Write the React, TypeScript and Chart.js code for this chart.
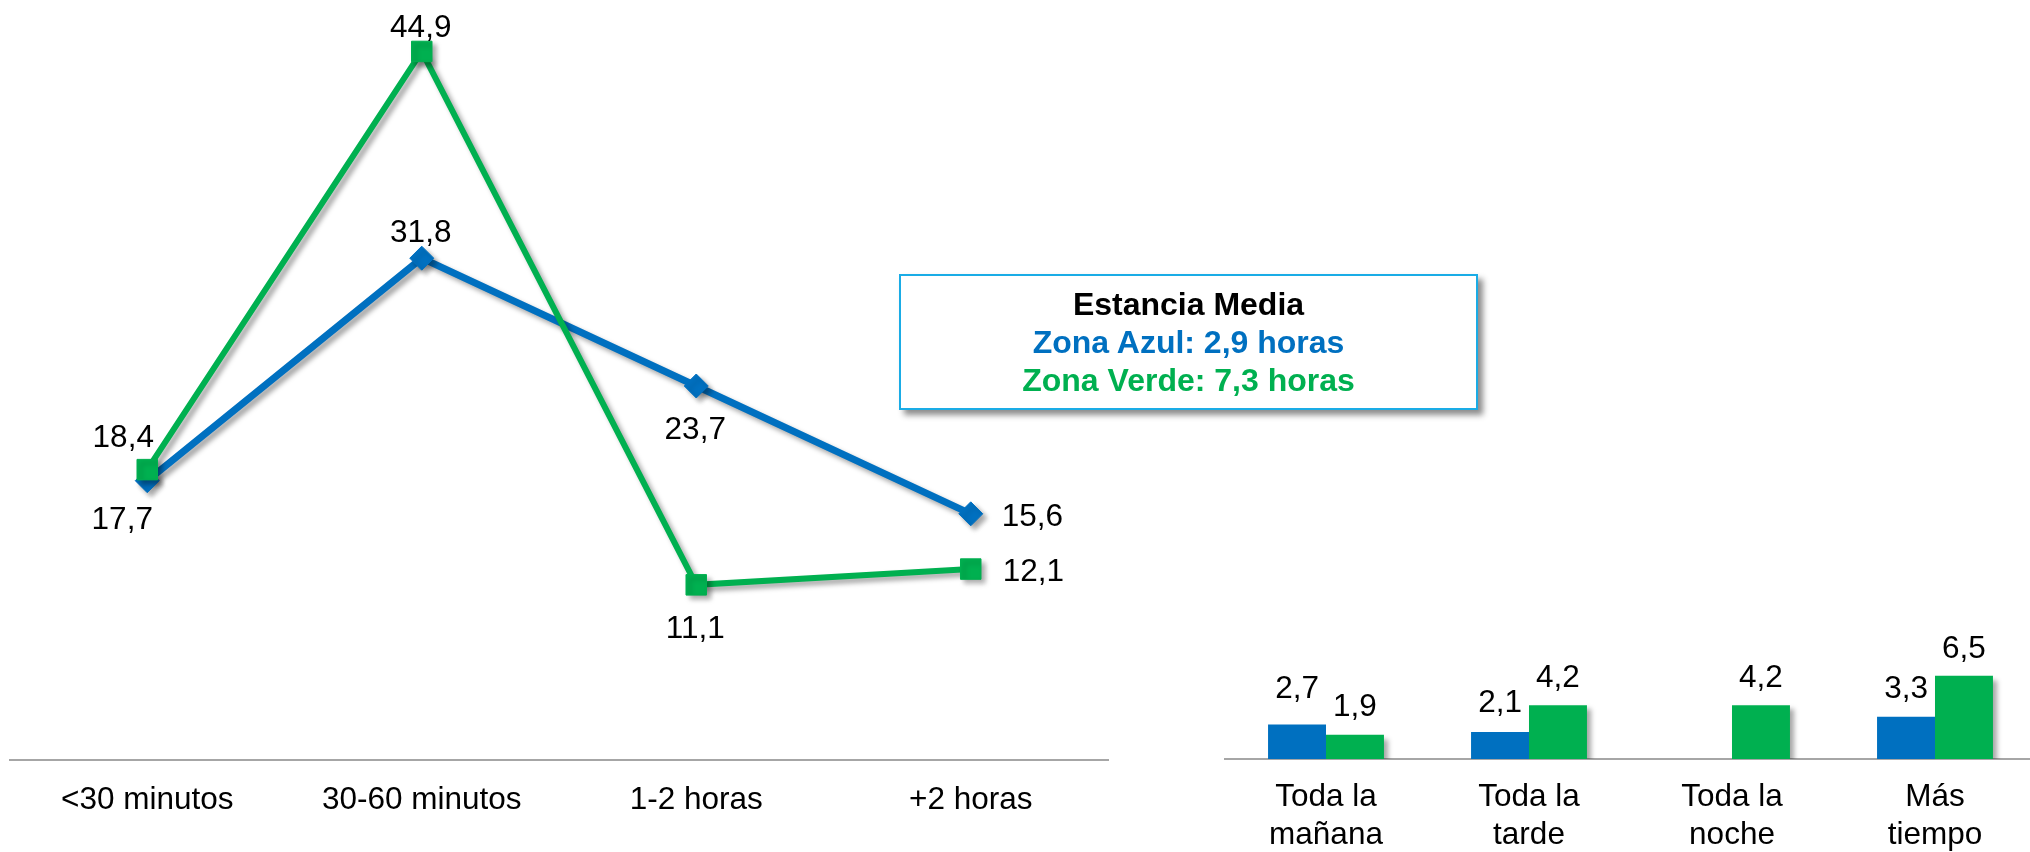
import React, { useEffect, useRef } from 'react';
import { Chart, registerables } from 'chart.js';

Chart.register(...registerables);

const FONT = '"Liberation Sans", Arial, Helvetica, sans-serif';
const BLUE = '#0070C0';
const GREEN = '#00B050';
const FS = 31.5;

// ---- Data ----
const durationCategories = ['<30 minutos', '30-60 minutos', '1-2 horas', '+2 horas'];
const durationAzul = [17.7, 31.8, 23.7, 15.6];
const durationVerde = [18.4, 44.9, 11.1, 12.1];

const periodCategories = [
  ['Toda la', 'mañana'],
  ['Toda la', 'tarde'],
  ['Toda la', 'noche'],
  ['Más', 'tiempo'],
];
const periodAzul: (number | null)[] = [2.7, 2.1, null, 3.3];
const periodVerde = [1.9, 4.2, 4.2, 6.5];

const seriesNames = ['Zona Azul', 'Zona Verde'];
const averageStayHours = [2.9, 7.3];

// ---- Label placement (style) ----
type Place = { dx: number; dy: number; align: CanvasTextAlign };
const lineLabelPlacement: Place[][] = [
  [
    { dx: -25, dy: 37.5, align: 'center' },
    { dx: -1, dy: -27.5, align: 'center' },
    { dx: -1, dy: 41.5, align: 'center' },
    { dx: 31, dy: 1, align: 'left' },
  ],
  [
    { dx: -24, dy: -34, align: 'center' },
    { dx: -1, dy: -26, align: 'center' },
    { dx: -1, dy: 41.5, align: 'center' },
    { dx: 32, dy: 1, align: 'left' },
  ],
];
const barLabelGap = [
  [26, 20, 19, 19],
  [19, 18, 18, 18],
];

const fmt = (v: number) => v.toFixed(1).replace('.', ',');

const makeShadowPlugin = (indices: number[] | null) => ({
  id: 'dsShadow',
  beforeDatasetDraw(chart: any, args: any) {
    const c = chart.ctx;
    c.save();
    if (indices === null || indices.includes(args.index)) {
      c.shadowColor = 'rgba(0,0,0,0.35)';
      c.shadowBlur = 5;
      c.shadowOffsetX = 4;
      c.shadowOffsetY = 4;
    }
  },
  afterDatasetDraw(chart: any) {
    chart.ctx.restore();
  },
});

const lineLabelsPlugin = {
  id: 'lineLabels',
  afterDatasetsDraw(chart: any) {
    const ctx = chart.ctx;
    ctx.save();
    ctx.font = `${FS}px ${FONT}`;
    ctx.fillStyle = '#000';
    ctx.textBaseline = 'alphabetic';
    chart.data.datasets.forEach((ds: any, di: number) => {
      const meta = chart.getDatasetMeta(di);
      meta.data.forEach((el: any, i: number) => {
        const v = ds.data[i];
        if (v == null) return;
        const p = lineLabelPlacement[di][i];
        ctx.textAlign = p.align;
        ctx.fillText(fmt(v), el.x + p.dx, el.y + p.dy + FS * 0.358);
      });
    });
    ctx.restore();
  },
};

const barLabelsPlugin = {
  id: 'barLabels',
  afterDatasetsDraw(chart: any) {
    const ctx = chart.ctx;
    ctx.save();
    ctx.font = `${FS}px ${FONT}`;
    ctx.fillStyle = '#000';
    ctx.textAlign = 'center';
    ctx.textBaseline = 'alphabetic';
    chart.data.datasets.forEach((ds: any, di: number) => {
      const meta = chart.getDatasetMeta(di);
      meta.data.forEach((el: any, i: number) => {
        const v = ds.data[i];
        if (v == null) return;
        ctx.fillText(fmt(v), el.x, el.y - barLabelGap[di][i]);
      });
    });
    ctx.restore();
  },
};

function LineChart() {
  const ref = useRef<HTMLCanvasElement | null>(null);
  useEffect(() => {
    if (!ref.current) return;
    const chart = new Chart(ref.current, {
      type: 'line',
      data: {
        labels: durationCategories,
        datasets: [
          {
            label: seriesNames[0],
            data: durationAzul,
            borderColor: BLUE,
            backgroundColor: BLUE,
            borderWidth: 7,
            pointStyle: 'rectRot',
            pointRadius: 12,
            pointBorderWidth: 1,
            pointBackgroundColor: BLUE,
            pointBorderColor: BLUE,
            tension: 0,
            clip: false,
            order: 1,
          } as any,
          {
            label: seriesNames[1],
            data: durationVerde,
            borderColor: GREEN,
            backgroundColor: GREEN,
            borderWidth: 6,
            pointStyle: 'rect',
            pointRadius: 14.5,
            pointBorderWidth: 1,
            pointBackgroundColor: GREEN,
            pointBorderColor: GREEN,
            tension: 0,
            clip: false,
            order: 0,
          } as any,
        ],
      },
      options: {
        responsive: false,
        animation: false,
        events: [],
        layout: { autoPadding: false, padding: { left: 10, right: 12, top: 0, bottom: 0 } },
        plugins: { legend: { display: false }, tooltip: { enabled: false } },
        scales: {
          x: {
            offset: true,
            grid: { display: false, drawTicks: false },
            border: { display: true, color: '#a6a6a6', width: 2 },
            ticks: {
              font: { size: FS, family: FONT },
              color: '#000',
              padding: 21,
              maxRotation: 0,
              autoSkip: false,
            },
            afterFit: (s: any) => {
              s.height = 92;
            },
          },
          y: { display: false, min: 0, max: 48.16 },
        },
      } as any,
      plugins: [makeShadowPlugin(null), lineLabelsPlugin],
    });
    return () => chart.destroy();
  }, []);
  return (
    <canvas
      ref={ref}
      width={1120}
      height={852}
      style={{ position: 'absolute', left: 0, top: 0, width: 1120, height: 852 }}
    />
  );
}

function BarChart() {
  const ref = useRef<HTMLCanvasElement | null>(null);
  useEffect(() => {
    if (!ref.current) return;
    const chart = new Chart(ref.current, {
      type: 'bar',
      data: {
        labels: periodCategories,
        datasets: [
          {
            label: seriesNames[0],
            data: periodAzul,
            backgroundColor: BLUE,
            categoryPercentage: 0.571,
            barPercentage: 1,
          } as any,
          {
            label: seriesNames[1],
            data: periodVerde,
            backgroundColor: GREEN,
            categoryPercentage: 0.571,
            barPercentage: 1,
          } as any,
        ],
      },
      options: {
        responsive: false,
        animation: false,
        events: [],
        layout: { autoPadding: false, padding: { left: 24.5, right: 13.5, top: 0, bottom: 0 } },
        plugins: { legend: { display: false }, tooltip: { enabled: false } },
        scales: {
          x: {
            grid: { display: false, drawTicks: false },
            border: { display: true, color: '#a6a6a6', width: 2 },
            ticks: {
              font: { size: FS, family: FONT, lineHeight: 1.22 },
              color: '#000',
              padding: 19,
              maxRotation: 0,
              autoSkip: false,
            },
            afterFit: (s: any) => {
              s.height = 93;
            },
          },
          y: { display: false, min: 0, max: 59.3 },
        },
      } as any,
      plugins: [makeShadowPlugin([1]), barLabelsPlugin],
    });
    return () => chart.destroy();
  }, []);
  return (
    <canvas
      ref={ref}
      width={850}
      height={852}
      style={{ position: 'absolute', left: 1200, top: 0, width: 850, height: 852 }}
    />
  );
}

export default function App() {
  return (
    <div
      style={{
        position: 'fixed',
        left: 0,
        top: 0,
        width: 2030,
        height: 852,
        overflow: 'hidden',
        background: '#fff',
      }}
    >
      <LineChart />
      <BarChart />
      <div
        style={{
          position: 'absolute',
          left: 899,
          top: 274,
          width: 579,
          height: 136,
          boxSizing: 'border-box',
          border: '2px solid #1AACE6',
          boxShadow: '5px 5px 6px rgba(0,0,0,0.45)',
          background: '#fff',
          fontFamily: FONT,
          fontWeight: 'bold',
          fontSize: 32,
          lineHeight: '38px',
          textAlign: 'center',
          paddingTop: 9,
        }}
      >
        <div style={{ color: '#000' }}>Estancia Media</div>
        <div style={{ color: BLUE }}>{`${seriesNames[0]}: ${fmt(averageStayHours[0])} horas`}</div>
        <div style={{ color: GREEN }}>{`${seriesNames[1]}: ${fmt(averageStayHours[1])} horas`}</div>
      </div>
    </div>
  );
}
